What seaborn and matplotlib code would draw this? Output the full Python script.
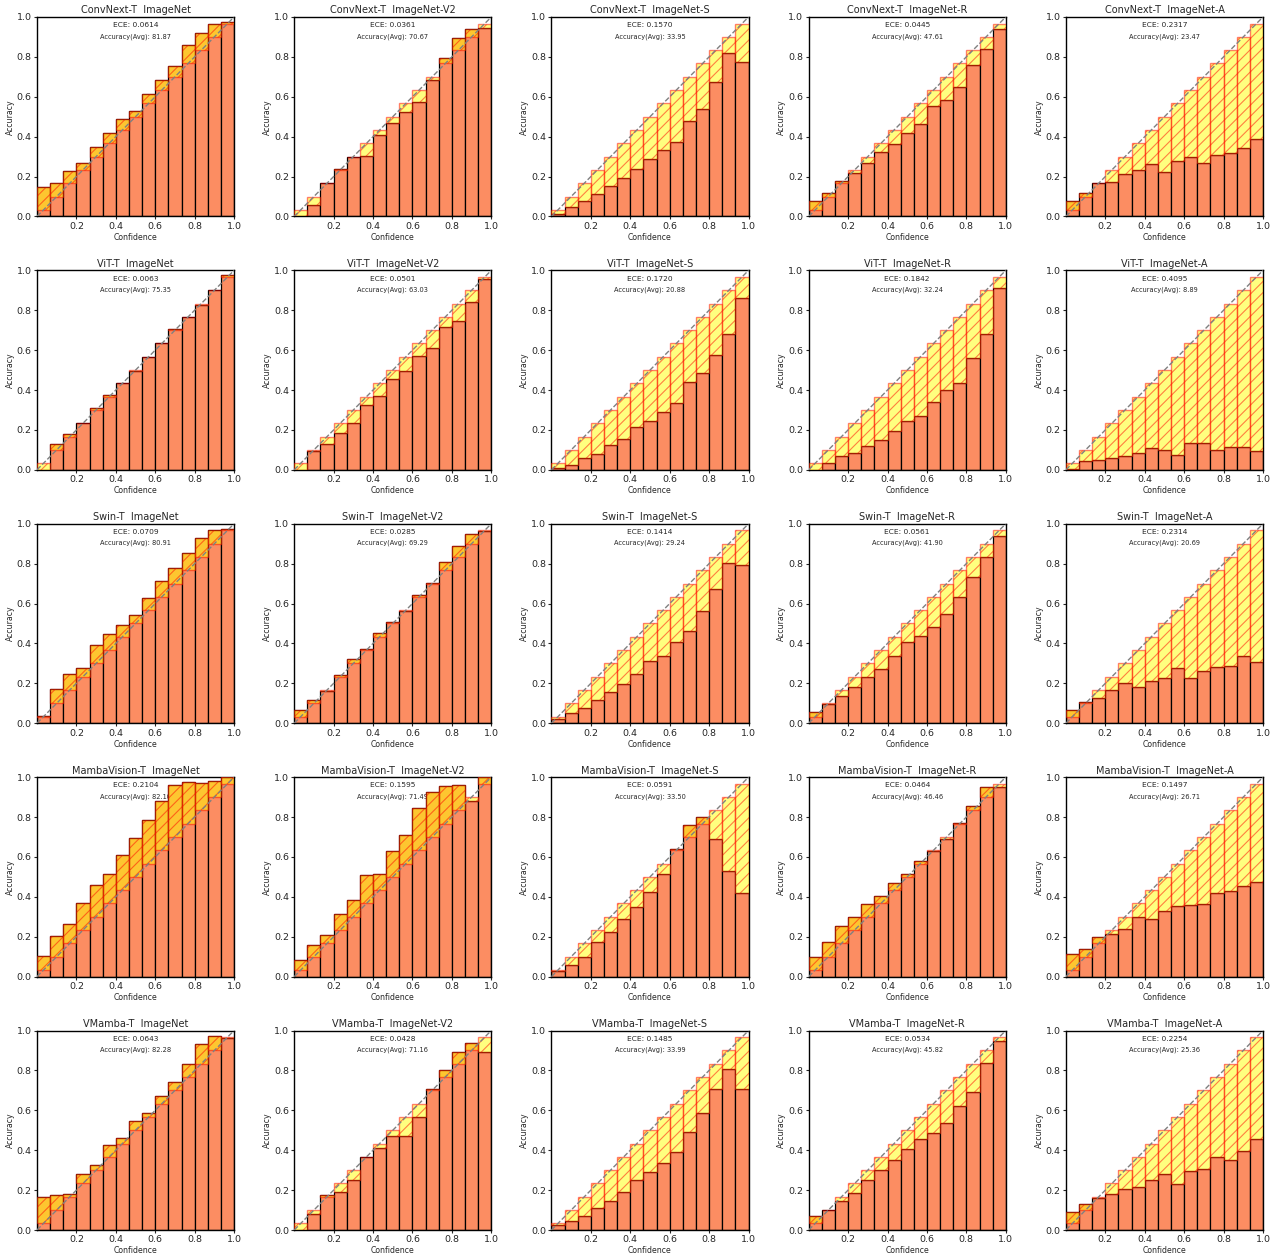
import numpy as np
import pandas as pd
import matplotlib
matplotlib.use("Agg")
import matplotlib.pyplot as plt
import seaborn as sns

models = ["ConvNext-T", "ViT-T", "Swin-T", "MambaVision-T", "VMamba-T"]
datasets = ["ImageNet", "ImageNet-V2", "ImageNet-S", "ImageNet-R", "ImageNet-A"]

# ECE and average accuracy per (model, dataset)
ece_convnext = [0.0614, 0.0361, 0.1570, 0.0445, 0.2317]
avg_convnext = [81.87, 70.67, 33.95, 47.61, 23.47]
ece_vit = [0.0063, 0.0501, 0.1720, 0.1842, 0.4095]
avg_vit = [75.35, 63.03, 20.88, 32.24, 8.89]
ece_swin = [0.0709, 0.0285, 0.1414, 0.0561, 0.2314]
avg_swin = [80.91, 69.29, 29.24, 41.90, 20.69]
ece_mambavision = [0.2104, 0.1595, 0.0591, 0.0464, 0.1497]
avg_mambavision = [82.10, 71.49, 33.50, 46.46, 26.71]
ece_vmamba = [0.0643, 0.0428, 0.1485, 0.0534, 0.2254]
avg_vmamba = [82.28, 71.16, 33.99, 45.82, 25.36]

# per-bin accuracy (15 bins)
cn_in = [0.15, 0.167, 0.228, 0.267, 0.347, 0.42, 0.488, 0.53, 0.613, 0.682, 0.755, 0.857, 0.922, 0.967, 0.975]
cn_v2 = [0.0, 0.058, 0.17, 0.237, 0.30, 0.303, 0.408, 0.467, 0.522, 0.573, 0.683, 0.795, 0.892, 0.94, 0.947]
cn_s = [0.01, 0.047, 0.08, 0.113, 0.153, 0.195, 0.237, 0.287, 0.333, 0.375, 0.478, 0.54, 0.673, 0.817, 0.775]
cn_r = [0.08, 0.117, 0.178, 0.217, 0.267, 0.325, 0.362, 0.417, 0.463, 0.555, 0.583, 0.65, 0.758, 0.84, 0.94]
cn_a = [0.075, 0.117, 0.17, 0.173, 0.213, 0.233, 0.262, 0.225, 0.278, 0.298, 0.27, 0.307, 0.318, 0.343, 0.387]

vit_in = [0.0, 0.128, 0.182, 0.235, 0.31, 0.375, 0.437, 0.497, 0.567, 0.638, 0.705, 0.767, 0.828, 0.9, 0.975]
vit_v2 = [0.0, 0.095, 0.128, 0.183, 0.233, 0.323, 0.368, 0.455, 0.495, 0.572, 0.612, 0.718, 0.745, 0.84, 0.958]
vit_s = [0.008, 0.025, 0.058, 0.078, 0.125, 0.157, 0.215, 0.245, 0.292, 0.335, 0.438, 0.485, 0.575, 0.683, 0.862]
vit_r = [0.0, 0.033, 0.067, 0.085, 0.12, 0.152, 0.195, 0.243, 0.268, 0.342, 0.402, 0.433, 0.562, 0.68, 0.913]
vit_a = [0.003, 0.043, 0.047, 0.058, 0.067, 0.083, 0.112, 0.098, 0.073, 0.133, 0.137, 0.102, 0.113, 0.117, 0.092]

swin_in = [0.035, 0.172, 0.247, 0.275, 0.392, 0.447, 0.492, 0.545, 0.628, 0.712, 0.777, 0.853, 0.927, 0.967, 0.973]
swin_v2 = [0.067, 0.117, 0.163, 0.242, 0.32, 0.373, 0.45, 0.507, 0.563, 0.642, 0.705, 0.808, 0.887, 0.947, 0.962]
swin_s = [0.022, 0.053, 0.078, 0.115, 0.158, 0.195, 0.248, 0.313, 0.335, 0.408, 0.462, 0.562, 0.675, 0.802, 0.792]
swin_r = [0.058, 0.097, 0.137, 0.183, 0.232, 0.272, 0.337, 0.405, 0.435, 0.483, 0.55, 0.633, 0.733, 0.832, 0.938]
swin_a = [0.067, 0.108, 0.128, 0.167, 0.2, 0.18, 0.212, 0.228, 0.278, 0.228, 0.263, 0.283, 0.287, 0.337, 0.308]

mv_in = [0.105, 0.203, 0.263, 0.367, 0.457, 0.515, 0.608, 0.697, 0.787, 0.88, 0.958, 0.975, 0.972, 0.983, 1.0]
mv_v2 = [0.082, 0.158, 0.21, 0.312, 0.383, 0.508, 0.515, 0.632, 0.708, 0.847, 0.925, 0.955, 0.96, 0.88, 1.0]
mv_s = [0.027, 0.058, 0.1, 0.172, 0.222, 0.29, 0.348, 0.425, 0.513, 0.642, 0.762, 0.802, 0.69, 0.53, 0.417]
mv_r = [0.097, 0.173, 0.252, 0.297, 0.362, 0.405, 0.467, 0.512, 0.58, 0.632, 0.692, 0.772, 0.853, 0.948, 0.95]
mv_a = [0.113, 0.137, 0.197, 0.212, 0.238, 0.297, 0.287, 0.328, 0.352, 0.358, 0.362, 0.42, 0.43, 0.452, 0.473]

vm_in = [0.167, 0.174, 0.179, 0.281, 0.326, 0.428, 0.462, 0.545, 0.585, 0.671, 0.744, 0.833, 0.933, 0.97, 0.963]
vm_v2 = [0.0, 0.08, 0.174, 0.189, 0.249, 0.366, 0.413, 0.47, 0.472, 0.567, 0.706, 0.803, 0.893, 0.936, 0.891]
vm_s = [0.025, 0.045, 0.072, 0.109, 0.145, 0.192, 0.251, 0.293, 0.336, 0.393, 0.493, 0.585, 0.707, 0.806, 0.707]
vm_r = [0.07, 0.102, 0.147, 0.184, 0.249, 0.3, 0.35, 0.405, 0.455, 0.488, 0.535, 0.624, 0.69, 0.838, 0.948]
vm_a = [0.09, 0.13, 0.159, 0.18, 0.204, 0.215, 0.25, 0.28, 0.23, 0.295, 0.305, 0.368, 0.35, 0.395, 0.455]

acc_rows = [
    [cn_in, cn_v2, cn_s, cn_r, cn_a],
    [vit_in, vit_v2, vit_s, vit_r, vit_a],
    [swin_in, swin_v2, swin_s, swin_r, swin_a],
    [mv_in, mv_v2, mv_s, mv_r, mv_a],
    [vm_in, vm_v2, vm_s, vm_r, vm_a],
]
ece_rows = [ece_convnext, ece_vit, ece_swin, ece_mambavision, ece_vmamba]
avg_rows = [avg_convnext, avg_vit, avg_swin, avg_mambavision, avg_vmamba]

n_bins = 15
edges = np.linspace(0, 1, n_bins + 1)
centers = (edges[:-1] + edges[1:]) / 2
width = 1.0 / n_bins

sns.set_theme(style="white")
plt.rcParams["font.family"] = ["DejaVu Sans"]
plt.rcParams["axes.edgecolor"] = "black"
plt.rcParams["axes.linewidth"] = 1.0
plt.rcParams["hatch.linewidth"] = 0.8

fig, axes = plt.subplots(5, 5, figsize=(12.75, 12.55), dpi=100)
fig.subplots_adjust(left=0.029, right=0.9906, top=0.9865, bottom=0.0199,
                    wspace=0.305, hspace=0.27)

for i, model in enumerate(models):
    for j, ds in enumerate(datasets):
        ax = axes[i, j]
        acc = np.array(acc_rows[i][j], dtype=float)
        df = pd.DataFrame({"conf": centers, "acc": acc})
        sns.histplot(data=df, x="conf", weights="acc", bins=n_bins,
                     binrange=(0, 1), ax=ax, color="#FC8D62",
                     edgecolor="black", linewidth=0.9, alpha=1.0,
                     stat="count", zorder=2)
        bottom = np.minimum(acc, centers)
        height = np.abs(centers - acc)
        ax.bar(centers, height, bottom=bottom, width=width,
               color="yellow", edgecolor="red", hatch="///", alpha=0.5,
               linewidth=1.0, zorder=3)
        sns.lineplot(x=[0, 1], y=[0, 1], ax=ax, color="gray",
                     linestyle="--", linewidth=1.0, zorder=5)
        ax.set_xlim(0, 1)
        ax.set_ylim(0, 1)
        ax.set_xticks([0.2, 0.4, 0.6, 0.8, 1.0])
        ax.set_yticks([0.0, 0.2, 0.4, 0.6, 0.8, 1.0])
        ax.tick_params(axis="both", labelsize=6.8, length=2, width=0.8,
                       pad=1.8, direction="out", bottom=True, left=True)
        ax.set_xlabel("Confidence", fontsize=5.6, labelpad=1.5)
        ax.set_ylabel("Accuracy", fontsize=5.6, labelpad=1.5)
        ax.set_title(f"{model}  {ds}", fontsize=7.0, pad=2.5)
        ax.text(0.5, 0.958, f"ECE: {ece_rows[i][j]:.4f}", transform=ax.transAxes,
                ha="center", va="center", fontsize=5.4, zorder=1)
        ax.text(0.5, 0.903, f"Accuracy(Avg): {avg_rows[i][j]:.2f}",
                transform=ax.transAxes, ha="center", va="center",
                fontsize=4.8, zorder=1)
        for s in ax.spines.values():
            s.set_visible(True)
            s.set_color("black")

fig.savefig("out.png", dpi=100, facecolor="white")
